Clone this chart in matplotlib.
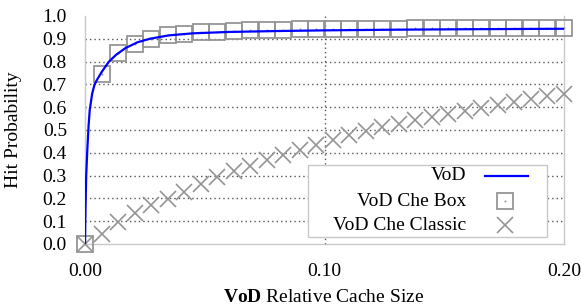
import matplotlib
matplotlib.use("Agg")
import matplotlib.pyplot as plt
from matplotlib.lines import Line2D
from matplotlib.patches import Rectangle

plt.rcParams['font.family'] = ['Liberation Serif', 'DejaVu Serif']
plt.rcParams['mathtext.fontset'] = 'custom'
plt.rcParams['mathtext.rm'] = 'Liberation Serif'
plt.rcParams['mathtext.bf'] = 'Liberation Serif:bold'

# ---- data ----
vod_x = [0, 0.0002, 0.0005, 0.001, 0.0015, 0.002, 0.003, 0.004, 0.005, 0.007,
         0.01, 0.013, 0.017, 0.022, 0.027, 0.035, 0.045, 0.06, 0.08, 0.1,
         0.13, 0.16, 0.2]
vod_y = [0, 0.15, 0.30, 0.42, 0.52, 0.59, 0.66, 0.70, 0.72, 0.755,
         0.80, 0.83, 0.86, 0.885, 0.90, 0.915, 0.924, 0.930, 0.934, 0.937,
         0.940, 0.942, 0.944]

che_x = [0.0, 0.0069, 0.0138, 0.0207, 0.0276, 0.0345, 0.0414, 0.0483, 0.0552, 0.0621,
         0.0690, 0.0759, 0.0828, 0.0897, 0.0966, 0.1034, 0.1103, 0.1172, 0.1241, 0.1310,
         0.1379, 0.1448, 0.1517, 0.1586, 0.1655, 0.1724, 0.1793, 0.1862, 0.1931, 0.2]
box_y = [0.0, 0.744, 0.838, 0.877, 0.900, 0.915, 0.923, 0.928, 0.932, 0.935,
         0.937, 0.939, 0.940, 0.941, 0.942, 0.943, 0.944, 0.944, 0.945, 0.945,
         0.946, 0.946, 0.947, 0.947, 0.947, 0.948, 0.948, 0.948, 0.949, 0.949]
classic_y = [0.0, 0.045, 0.095, 0.135, 0.170, 0.197, 0.228, 0.262, 0.292, 0.318,
             0.343, 0.368, 0.392, 0.414, 0.436, 0.457, 0.476, 0.495, 0.512, 0.528,
             0.543, 0.557, 0.571, 0.585, 0.598, 0.611, 0.624, 0.637, 0.649, 0.660]

x_ticks = [0.0, 0.1, 0.2]
x_tick_labels = ['0.00', '0.10', '0.20']
y_ticks = [0.0, 0.1, 0.2, 0.3, 0.4, 0.5, 0.6, 0.7, 0.8, 0.9, 1.0]
y_tick_labels = ['0.0', '0.1', '0.2', '0.3', '0.4', '0.5', '0.6', '0.7', '0.8', '0.9', '1.0']
legend_labels = ['VoD', 'VoD Che Box', 'VoD Che Classic']

GRAY = '#959595'
FS = 14

fig = plt.figure(figsize=(5.81, 3.07), dpi=100)
ax = fig.add_axes([85/581, 1-244/307, (564-85)/581, (244-16)/307])
ax.set_xlim(0, 0.2)
ax.set_ylim(0, 1.0)

# grid
for yv in y_ticks[1:-1]:
    ax.axhline(yv, color='#555555', lw=1.0, ls=(0, (1, 2.2)), zorder=1)
ax.axvline(0.1, color='#555555', lw=1.0, ls=(0, (1, 2.2)), zorder=1)

# spines
for s in ['left', 'right', 'bottom']:
    ax.spines[s].set_color('#c8c8c8')
    ax.spines[s].set_linewidth(1.0)
ax.spines['top'].set_visible(False)

ax.plot(che_x, classic_y, ls='none', marker='x', ms=11.5, mew=1.2,
        color=GRAY, clip_on=False, zorder=3)
ax.plot(che_x, box_y, ls='none', marker='s', ms=11.0, mew=1.3, mfc='none',
        mec=GRAY, clip_on=False, zorder=3)
ax.plot(che_x, box_y, ls='none', marker='o', ms=1.4, mew=0, color=GRAY,
        clip_on=False, zorder=3)
ax.plot(vod_x, vod_y, color='#0000ff', lw=1.6, zorder=4)

ax.set_xticks(x_ticks)
ax.set_xticklabels(x_tick_labels, fontsize=FS)
ax.set_yticks(y_ticks)
ax.set_yticklabels(y_tick_labels, fontsize=FS)
ax.tick_params(length=0)
ax.tick_params(axis='y', pad=13)
ax.tick_params(axis='x', pad=13.5)

fig.text(14/581, 1-130/307, 'Hit Probability', rotation=90, ha='center',
         va='center', fontsize=FS)
fig.text(324/581, 1-297/307, r'$\mathbf{VoD}$ Relative Cache Size', ha='center',
         va='center', fontsize=FS)

# legend (manual, right-aligned labels)
def fx(px):
    return (px - 85) / (564 - 85)

def fy(py):
    return (244 - py) / (244 - 16)

ax.add_patch(Rectangle((fx(308), fy(237)), fx(547) - fx(308), fy(165) - fy(237),
                       transform=ax.transAxes, facecolor='white',
                       edgecolor='#c8c8c8', lw=1.0, zorder=5, clip_on=False))
rows = [176, 201, 225]
for lab, py in zip(legend_labels, rows):
    ax.text(fx(466), fy(py), lab, transform=ax.transAxes, ha='right',
            va='center', fontsize=FS, zorder=6)
ax.add_line(Line2D([fx(485), fx(528)], [fy(176), fy(176)], transform=ax.transAxes,
                   color='#0000ff', lw=1.6, zorder=6, clip_on=False))
ax.add_line(Line2D([fx(505)], [fy(201)], transform=ax.transAxes, ls='none',
                   marker='s', ms=11.0, mew=1.3, mfc='none', mec=GRAY,
                   zorder=6, clip_on=False))
ax.add_line(Line2D([fx(505)], [fy(201)], transform=ax.transAxes, ls='none',
                   marker='o', ms=1.4, mew=0, color=GRAY, zorder=6, clip_on=False))
ax.add_line(Line2D([fx(505)], [fy(225)], transform=ax.transAxes, ls='none',
                   marker='x', ms=11.5, mew=1.2, color=GRAY, zorder=6,
                   clip_on=False))

fig.savefig('out.png', dpi=100)
